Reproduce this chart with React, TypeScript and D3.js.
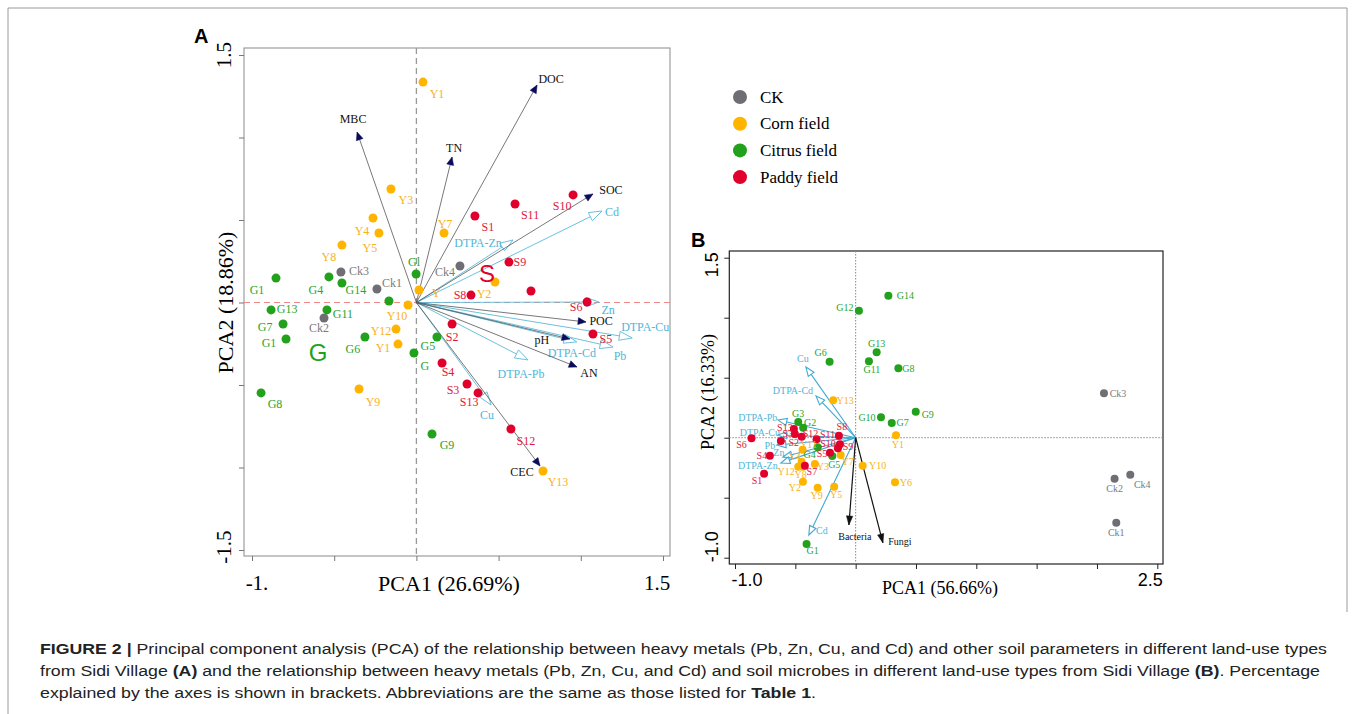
import React, { useEffect, useRef } from "react";
import * as d3 from "d3";

type Pt = [string, number, number];

// ---------- panel A : sample scores [label, PCA1, PCA2]
const ckA: Pt[] = [["Ck3", -0.459, 0.185], ["Ck1", -0.24, 0.082], ["Ck4", 0.265, 0.221], ["Ck2", -0.562, -0.094]];
const cornA: Pt[] = [
  ["Y1", 0.04, 1.336], ["Y3", -0.155, 0.688], ["Y4", -0.264, 0.512], ["Y5", -0.228, 0.421],
  ["Y8", -0.453, 0.348], ["Y7", 0.168, 0.421], ["Y", 0.016, 0.076], ["Y10", -0.051, -0.015],
  ["Y12", -0.124, -0.161], ["Y1", -0.112, -0.252], ["Y9", -0.349, -0.524], ["Y2", 0.478, 0.124],
  ["Y13", 0.77, -1.021],
];
const citrusA: Pt[] = [
  ["G1", -0.854, 0.148], ["G4", -0.532, 0.155], ["G14", -0.453, 0.118], ["Gl", -0.002, 0.173],
  ["", -0.167, 0.009], ["G13", -0.884, -0.045], ["G11", -0.544, -0.045], ["G7", -0.811, -0.13],
  ["G1", -0.793, -0.221], ["G6", -0.313, -0.209], ["G5", 0.125, -0.209], ["G", -0.015, -0.306],
  ["G8", -0.945, -0.548], ["G9", 0.095, -0.797],
];
const paddyA: Pt[] = [
  ["S1", 0.356, 0.524], ["S11", 0.6, 0.597], ["S10", 0.953, 0.652], ["S9", 0.563, 0.245],
  ["", 0.697, 0.07], ["S8", 0.332, 0.045], ["S6", 1.038, 0.003], ["S5", 1.074, -0.191],
  ["S2", 0.217, -0.13], ["S4", 0.156, -0.367], ["S3", 0.308, -0.494], ["S13", 0.375, -0.548],
  ["S12", 0.575, -0.767],
];
const soilArrowsA: Pt[] = [
  ["MBC", -0.361, 1.033], ["TN", 0.217, 0.882], ["DOC", 0.734, 1.318], ["SOC", 1.074, 0.658],
  ["POC", 1.032, -0.118], ["pH", 0.934, -0.221], ["AN", 0.977, -0.391], ["CEC", 0.752, -0.991],
];
const metalArrowsA: Pt[] = [
  ["Cd", 1.129, 0.555], ["DTPA-Zn", 0.588, 0.379], ["Zn", 1.111, 0.003], ["DTPA-Cu", 1.313, -0.215],
  ["DTPA-Cd", 0.976, -0.239], ["Pb", 1.196, -0.27], ["DTPA-Pb", 0.679, -0.348], ["Cu", 0.454, -0.621],
];
const groupTagsA: Pt[] = [["G", -0.598, -0.306], ["S", 0.429, 0.173]];

// ---------- panel B
const ckB: Pt[] = [["Ck3", 2.058, 0.37], ["Ck2", 2.146, -0.342], ["Ck4", 2.276, -0.308], ["Ck1", 2.16, -0.708]];
const cornB: Pt[] = [
  ["Y13", -0.186, 0.312], ["Y1", 0.334, 0.02], ["Y10", 0.058, -0.233], ["Y6", 0.326, -0.372],
  ["Y7", -0.124, -0.144], ["Y11", -0.44, -0.1], ["Y4", -0.448, -0.2], ["Y12", -0.476, -0.242],
  ["Y8", -0.44, -0.242], ["Y3", -0.338, -0.219], ["Y2", -0.437, -0.367], ["Y9", -0.315, -0.417],
  ["Y5", -0.178, -0.408],
];
const citrusB: Pt[] = [
  ["G14", 0.271, 1.183], ["G12", 0.027, 1.058], ["G13", 0.174, 0.712], ["G11", 0.11, 0.637],
  ["G8", 0.354, 0.578], ["G6", -0.216, 0.633], ["G10", 0.21, 0.17], ["G9", 0.498, 0.217],
  ["G7", 0.299, 0.123], ["G3", -0.476, 0.131], ["G2", -0.435, 0.083], ["G4", -0.315, -0.08],
  ["G5", -0.194, -0.153], ["G1", -0.407, -0.886],
];
const paddyB: Pt[] = [
  ["S6", -0.863, -0.005], ["S4", -0.711, -0.15], ["S1", -0.759, -0.3], ["S13", -0.512, 0.073],
  ["S3", -0.504, 0.031], ["S12", -0.448, 0.008], ["S2", -0.62, -0.028], ["S11", -0.324, -0.013],
  ["S8", -0.139, 0.017], ["S10", -0.147, -0.088], ["S9", -0.13, -0.055], ["S5", -0.213, -0.125],
  ["S7", -0.421, -0.233],
];
const metalArrowsB: Pt[] = [
  ["Cu", -0.412, 0.589], ["DTPA-Cd", -0.329, 0.348], ["DTPA-Pb", -0.645, 0.148], ["DTPA-Cu", -0.645, 0.023],
  ["Pb", -0.653, -0.061], ["Zn", -0.603, -0.161], ["DTPA-Zn", -0.62, -0.211], ["Cd", -0.388, -0.811],
];
const microbeArrowsB: Pt[] = [["Bacteria", -0.056, -0.727], ["Fungi", 0.226, -0.877]];

// ticks
const ticksAx = [-1, -0.5, 0, 0.5, 1, 1.5];
const ticksAy = [-1.5, -1, -0.5, 0, 0.5, 1, 1.5];
const ticksBx = [-1, -0.5, 0, 0.5, 1, 1.5, 2, 2.5];
const ticksBy = [-1, -0.5, 0, 0.5, 1, 1.5];
const tickLabelsAx = ["-1.", "1.5"];
const tickLabelsAy = ["1.5", "-1.5"];
const tickLabelsBx = ["-1.0", "2.5"];
const tickLabelsBy = ["1.5", "-1.0"];

const legendNames = ["CK", "Corn field", "Citrus field", "Paddy field"];

// label nudges (px), same order as the arrays above
const ckANudge = [[18, -1], [15, -6], [-15, 6], [-5, 10]];
const cornANudge = [[14, 12], [15, 11], [-11, 13], [-9, 15], [-13, 12], [1, -9], [17, 3], [-11, 11], [-15, 2], [-15, 4], [14, 13], [-11, 12], [15, 11]];
const citrusANudge = [[-19, 12], [-13, 13], [14, 7], [-2, -12], [0, 0], [16, -1], [16, 4], [-18, 3], [-17, 4], [-12, 12], [-9, 9], [11, 13], [14, 11], [15, 11]];
const paddyANudge = [[13, 11], [15, 11], [-11, 11], [11, 0], [0, 0], [-11, 0], [-11, 5], [13, 5], [0, 13], [6, 9], [-14, 6], [-9, 9], [15, 12]];
const soilANudge = [[-4, -13], [2, -9], [14, -6], [18, -4], [15, -1], [-28, 1], [12, 6], [-18, 6]];
const metalANudge = [[10, 1], [-35, 3], [9, 8], [13, -11], [-5, 11], [7, 9], [-7, 14], [-4, 10]];
const ckBNudge = [[14, 0], [0, 10], [12, 10], [0, 10]];
const cornBNudge = [[12, 0], [2, 9], [15, 0], [11, 0], [7, 7], [6, -5], [-7, -5], [-12, 5], [-2, 8], [8, 3], [-8, 6], [-1, 8], [2, 8]];
const citrusBNudge = [[17, 0], [-14, -3], [0, -9], [3, 8], [10, 0], [-9, -9], [-14, 0], [12, 3], [11, 0], [0, -8], [7, -5], [-8, 7], [2, 8], [6, 6]];
const paddyBNudge = [[-10, 6], [-8, 0], [-7, 7], [-9, -1], [-7, 0], [9, -3], [13, 1], [11, -5], [3, -9], [-10, -5], [8, 2], [-8, 1], [7, 6]];
const metalBNudge = [[-3, -9], [-23, -5], [-20, -2], [-18, -2], [-7, 0], [-4, -5], [-23, 2], [13, -5]];
const microbeBNudge = [[6, 12], [17, -1]];

const COL = { ck: "#6f6e74", corn: "#ffb400", citrus: "#22a11c", paddy: "#e1002b" };
const TXT = { ck: "#7b7b7b", corn: "#f7b21c", citrus: "#2aa52a", paddy: "#e2183a", blue: "#4fb6d9", dark: "#111" };
const SERIF = "'Liberation Serif', 'Times New Roman', serif";
const SANS = "'Liberation Sans', Arial, sans-serif";

// scales
const xA = d3.scaleLinear().domain([-1, 1.5]).range([252, 663]);
const yA = d3.scaleLinear().domain([-1.5, 1.5]).range([550, 55]);
const boxA = { l: 244, r: 670, t: 48, b: 556 };
const xB = d3.scaleLinear().domain([-1, 2.5]).range([735, 1157.3]);
const yB = d3.scaleLinear().domain([-1, 1.5]).range([557.7, 257.7]);
const boxB = { l: 729.3, r: 1163, t: 251, b: 564 };

function head(x1: number, y1: number, x2: number, y2: number, len: number, half: number) {
  const d = Math.hypot(x2 - x1, y2 - y1);
  const ux = (x2 - x1) / d, uy = (y2 - y1) / d;
  const bx = x2 - ux * len, by = y2 - uy * len;
  return {
    bx, by,
    pts: `${x2},${y2} ${bx - uy * half},${by + ux * half} ${bx + uy * half},${by - ux * half}`,
  };
}

function Arrows({ data, nudge, x, y, hollow, line, fill, text, len, half, width, fontSize }: any) {
  const ox = x(0), oy = y(0);
  return (
    <g>
      {data.map((d: Pt, i: number) => {
        const tx = x(d[1]), ty = y(d[2]);
        const h = head(ox, oy, tx, ty, len, half);
        return (
          <g key={i}>
            <line x1={ox} y1={oy} x2={hollow ? h.bx : tx} y2={hollow ? h.by : ty} stroke={line} strokeWidth={width} />
            <polygon points={h.pts} fill={hollow ? "none" : fill} stroke={hollow ? line : fill} strokeWidth={hollow ? width : 0.5} />
            <text x={tx + nudge[i][0]} y={ty + nudge[i][1]} fill={text} fontSize={fontSize} fontFamily={SERIF}
              textAnchor="middle" dominantBaseline="central">{d[0]}</text>
          </g>
        );
      })}
    </g>
  );
}

function Dots({ data, x, y, r, color }: any) {
  return <g>{data.map((d: Pt, i: number) => <circle key={i} cx={x(d[1])} cy={y(d[2])} r={r} fill={color} />)}</g>;
}

function Labels({ data, nudge, x, y, color, fontSize }: any) {
  return (
    <g>
      {data.map((d: Pt, i: number) => d[0] ? (
        <text key={i} x={x(d[1]) + nudge[i][0]} y={y(d[2]) + nudge[i][1]} fill={color} fontSize={fontSize}
          fontFamily={SERIF} textAnchor="middle" dominantBaseline="central">{d[0]}</text>
      ) : null)}
    </g>
  );
}

export default function App() {
  const svgRef = useRef<SVGSVGElement>(null);

  useEffect(() => {
    const svg = d3.select(svgRef.current);
    const tidy = (g: any, color: string, w: number) => {
      g.select(".domain").remove();
      g.selectAll("line").attr("stroke", color).attr("stroke-width", w);
    };
    svg.select(".a-y").attr("transform", `translate(${boxA.l},0)`)
      .call(d3.axisLeft(yA).tickValues(ticksAy).tickSize(5).tickFormat(() => "") as any)
      .call((g: any) => tidy(g, "#777", 1));
    svg.select(".a-x").attr("transform", `translate(0,${boxA.b})`)
      .call(d3.axisBottom(xA).tickValues(ticksAx).tickSize(5).tickFormat(() => "") as any)
      .call((g: any) => tidy(g, "#777", 1));
    svg.select(".b-y").attr("transform", `translate(${boxB.l},0)`)
      .call(d3.axisLeft(yB).tickValues(ticksBy).tickSize(5).tickFormat(() => "") as any)
      .call((g: any) => tidy(g, "#222", 1));
    svg.select(".b-x").attr("transform", `translate(0,${boxB.b})`)
      .call(d3.axisBottom(xB).tickValues(ticksBx).tickSize(5).tickFormat(() => "") as any)
      .call((g: any) => tidy(g, "#222", 1));
  }, []);

  const legendCols = [COL.ck, COL.corn, COL.citrus, COL.paddy];

  return (
    <svg ref={svgRef} width={1355} height={714} style={{ position: "absolute", left: 0, top: 0, background: "#fff" }}>
      {/* figure frame */}
      <line x1={8} y1={8} x2={1347} y2={8} stroke="#9a9a9a" />
      <line x1={8} y1={8} x2={8} y2={714} stroke="#9a9a9a" />
      <line x1={1347} y1={8} x2={1347} y2={612} stroke="#9a9a9a" />

      {/* ---------------- panel A ---------------- */}
      <text x={194} y={43} fontFamily={SANS} fontWeight="bold" fontSize={20}>A</text>
      <rect x={boxA.l} y={boxA.t} width={boxA.r - boxA.l} height={boxA.b - boxA.t} fill="none" stroke="#8a8a8a" />
      <g className="a-y" />
      <g className="a-x" />
      <line x1={xA(0)} x2={xA(0)} y1={boxA.t} y2={boxA.b} stroke="#999" strokeDasharray="6,4" strokeWidth={1.3} />
      <line x1={boxA.l} x2={boxA.r} y1={yA(0)} y2={yA(0)} stroke="#f08a8a" strokeDasharray="6,4" strokeWidth={1.2} />

      <text transform={`translate(224,${yA(1.5)}) rotate(-90)`} textAnchor="middle" dominantBaseline="central" fontFamily={SERIF} fontSize={21}>{tickLabelsAy[0]}</text>
      <text transform={`translate(224,${yA(-1.5) - 3}) rotate(-90)`} textAnchor="middle" dominantBaseline="central" fontFamily={SERIF} fontSize={21}>{tickLabelsAy[1]}</text>
      <text x={xA(-1) + 5} y={583} textAnchor="middle" dominantBaseline="central" fontFamily={SERIF} fontSize={21}>{tickLabelsAx[0]}</text>
      <text x={xA(1.5) - 6} y={583} textAnchor="middle" dominantBaseline="central" fontFamily={SERIF} fontSize={21}>{tickLabelsAx[1]}</text>
      <text x={449} y={583} textAnchor="middle" dominantBaseline="central" fontFamily={SERIF} fontSize={22}>PCA1 (26.69%)</text>
      <text transform={`translate(225,${yA(0)}) rotate(-90)`} textAnchor="middle" dominantBaseline="central" fontFamily={SERIF} fontSize={22}>PCA2 (18.86%)</text>

      <Arrows data={metalArrowsA} nudge={metalANudge} x={xA} y={yA} hollow line="#5bbad9" text={TXT.blue} len={13} half={4.5} width={0.9} fontSize={12} />
      <Arrows data={soilArrowsA} nudge={soilANudge} x={xA} y={yA} line="#555" fill="#0b0b5c" text={TXT.dark} len={8} half={3.5} width={0.8} fontSize={12} />

      <Dots data={ckA} x={xA} y={yA} r={4.5} color={COL.ck} />
      <Dots data={cornA} x={xA} y={yA} r={4.5} color={COL.corn} />
      <Dots data={citrusA} x={xA} y={yA} r={4.5} color={COL.citrus} />
      <Dots data={paddyA} x={xA} y={yA} r={4.5} color={COL.paddy} />
      <Labels data={ckA} nudge={ckANudge} x={xA} y={yA} color={TXT.ck} fontSize={12} />
      <Labels data={cornA} nudge={cornANudge} x={xA} y={yA} color={TXT.corn} fontSize={12} />
      <Labels data={citrusA} nudge={citrusANudge} x={xA} y={yA} color={TXT.citrus} fontSize={12} />
      <Labels data={paddyA} nudge={paddyANudge} x={xA} y={yA} color={TXT.paddy} fontSize={12} />
      {groupTagsA.map((d, i) => (
        <text key={i} x={xA(d[1])} y={yA(d[2])} fill={i === 0 ? COL.citrus : COL.paddy} fontFamily={SANS} fontSize={24}
          textAnchor="middle" dominantBaseline="central">{d[0]}</text>
      ))}

      {/* legend */}
      {legendNames.map((n, i) => (
        <g key={n} transform={`translate(740,${97 + i * 26.7})`}>
          <circle r={7} fill={legendCols[i]} />
          <text x={20} y={0} dominantBaseline="central" fontFamily={SERIF} fontSize={17}>{n}</text>
        </g>
      ))}

      {/* ---------------- panel B ---------------- */}
      <text x={691} y={247} fontFamily={SANS} fontWeight="bold" fontSize={20}>B</text>
      <rect x={boxB.l} y={boxB.t} width={boxB.r - boxB.l} height={boxB.b - boxB.t} fill="none" stroke="#222" strokeWidth={1.2} />
      <g className="b-y" />
      <g className="b-x" />
      <line x1={xB(0)} x2={xB(0)} y1={boxB.t} y2={boxB.b} stroke="#888" strokeDasharray="1.5,1.5" />
      <line x1={boxB.l} x2={boxB.r} y1={yB(0)} y2={yB(0)} stroke="#888" strokeDasharray="1.5,1.5" />

      <text transform={`translate(712,${yB(1.5) + 7}) rotate(-90)`} textAnchor="middle" dominantBaseline="central" fontFamily={SANS} fontSize={18}>{tickLabelsBy[0]}</text>
      <text transform={`translate(712,${yB(-1) - 11}) rotate(-90)`} textAnchor="middle" dominantBaseline="central" fontFamily={SANS} fontSize={18}>{tickLabelsBy[1]}</text>
      <text x={xB(-1) + 12} y={580} textAnchor="middle" dominantBaseline="central" fontFamily={SANS} fontSize={18}>{tickLabelsBx[0]}</text>
      <text x={xB(2.5) - 7} y={580} textAnchor="middle" dominantBaseline="central" fontFamily={SANS} fontSize={18}>{tickLabelsBx[1]}</text>
      <text x={940} y={588} textAnchor="middle" dominantBaseline="central" fontFamily={SERIF} fontSize={18}>PCA1 (56.66%)</text>
      <text transform={`translate(708,392) rotate(-90)`} textAnchor="middle" dominantBaseline="central" fontFamily={SERIF} fontSize={18}>PCA2 (16.33%)</text>

      <Arrows data={metalArrowsB} nudge={metalBNudge} x={xB} y={yB} hollow line="#3fa9d2" text={TXT.blue} len={9} half={3.5} width={1.1} fontSize={10} />
      <Arrows data={microbeArrowsB} nudge={microbeBNudge} x={xB} y={yB} line="#111" fill="#111" text={TXT.dark} len={9} half={3.2} width={1.2} fontSize={10} />

      <Dots data={ckB} x={xB} y={yB} r={4} color={COL.ck} />
      <Dots data={cornB} x={xB} y={yB} r={4} color={COL.corn} />
      <Dots data={citrusB} x={xB} y={yB} r={4} color={COL.citrus} />
      <Dots data={paddyB} x={xB} y={yB} r={4} color={COL.paddy} />
      <Labels data={ckB} nudge={ckBNudge} x={xB} y={yB} color={TXT.ck} fontSize={10} />
      <Labels data={cornB} nudge={cornBNudge} x={xB} y={yB} color={TXT.corn} fontSize={10} />
      <Labels data={citrusB} nudge={citrusBNudge} x={xB} y={yB} color={TXT.citrus} fontSize={10} />
      <Labels data={paddyB} nudge={paddyBNudge} x={xB} y={yB} color={TXT.paddy} fontSize={10} />

      {/* caption */}
      <g fontFamily="'Liberation Sans Narrow', 'Liberation Sans', Arial, sans-serif" fontSize={15.5} fill="#222">
        <text x={40} y={654} textLength={1287} lengthAdjust="spacingAndGlyphs">
          <tspan fontWeight="bold">FIGURE 2 | </tspan>Principal component analysis (PCA) of the relationship between heavy metals (Pb, Zn, Cu, and Cd) and other soil parameters in different land-use types
        </text>
        <text x={40} y={676} textLength={1280} lengthAdjust="spacingAndGlyphs">
          from Sidi Village <tspan fontWeight="bold">(A)</tspan> and the relationship between heavy metals (Pb, Zn, Cu, and Cd) and soil microbes in different land-use types from Sidi Village <tspan fontWeight="bold">(B)</tspan>. Percentage
        </text>
        <text x={40} y={698} textLength={776} lengthAdjust="spacingAndGlyphs">
          explained by the axes is shown in brackets. Abbreviations are the same as those listed for <tspan fontWeight="bold">Table 1</tspan>.
        </text>
      </g>
    </svg>
  );
}
